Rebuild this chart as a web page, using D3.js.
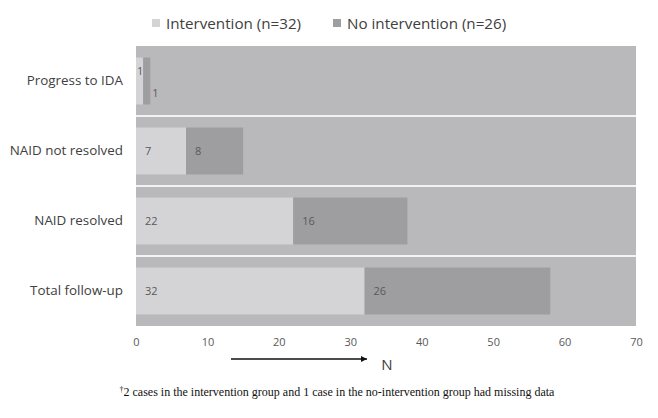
<!DOCTYPE html>
<html><head><meta charset="utf-8">
<script src="https://cdn.jsdelivr.net/npm/d3@7"></script>
<style>body{margin:0;background:#fff}</style>
</head><body>
<svg id="c" width="658" height="418"></svg>
<script>
const categories = ["Progress to IDA", "NAID not resolved", "NAID resolved", "Total follow-up"];
const intervention = [1, 7, 22, 32];
const noIntervention = [1, 8, 16, 26];
const seriesNames = ["Intervention (n=32)", "No intervention (n=26)"];
const xTicks = [0, 10, 20, 30, 40, 50, 60, 70];
const footnote = "2 cases in the intervention group and 1 case in the no-intervention group had missing data";

const svg = d3.select("#c");
const L = 136, R = 636, T = 46, B = 326;
const x = d3.scaleLinear().domain([0, 70]).range([L, R]);
const y = d3.scaleBand().domain(categories).range([T, B]).paddingInner(0.33).paddingOuter(0.165);
const yb = d3.scaleBand().domain(categories).range([T, B]);
const colInt = "#d4d4d6", colNo = "#9e9ea0", bg = "#b9b9bb";
const font = "Open Sans, sans-serif";

svg.append("rect").attr("x", L).attr("y", T).attr("width", R - L).attr("height", B - T).attr("fill", bg);
categories.slice(1).forEach(c => {
  svg.append("line").attr("x1", L).attr("x2", R).attr("y1", yb(c)).attr("y2", yb(c))
    .attr("stroke", "#f2f2f2").attr("stroke-width", 2);
});

const data = categories.map((c, i) => ({c, a: intervention[i], b: noIntervention[i]}));
const g = svg.append("g");
data.forEach(d => {
  g.append("rect").attr("x", x(0)).attr("y", y(d.c)).attr("width", x(d.a) - x(0)).attr("height", y.bandwidth()).attr("fill", colInt);
  g.append("rect").attr("x", x(d.a)).attr("y", y(d.c)).attr("width", x(d.a + d.b) - x(d.a)).attr("height", y.bandwidth()).attr("fill", colNo);
  const small = d.a < 3;
  g.append("text").attr("x", small ? x(0) + 1 : x(0) + 9)
    .attr("y", small ? y(d.c) + 14 : y(d.c) + y.bandwidth() / 2)
    .attr("dy", "0.35em").attr("font-family", font).attr("font-size", 11).attr("fill", "#595959").text(d.a);
  g.append("text").attr("x", small ? x(d.a + d.b) + 2 : x(d.a) + 9)
    .attr("y", small ? y(d.c) + y.bandwidth() - 11 : y(d.c) + y.bandwidth() / 2)
    .attr("dy", "0.35em").attr("font-family", font).attr("font-size", 11).attr("fill", "#595959").text(d.b);
});

const ya = d3.axisLeft(yb).tickSize(0).tickPadding(13);
const yg = svg.append("g").attr("transform", `translate(${L},0)`).call(ya);
yg.select(".domain").remove();
yg.selectAll("text").attr("font-family", font).attr("font-size", 13.4).attr("fill", "#404040");

const xa = d3.axisBottom(x).tickValues(xTicks).tickSize(0).tickPadding(12);
const xg = svg.append("g").attr("transform", `translate(0,${B})`).call(xa);
xg.select(".domain").remove();
xg.selectAll("text").attr("font-family", font).attr("font-size", 11).attr("fill", "#595959");

const leg = [{n: seriesNames[0], c: colInt, x: 152}, {n: seriesNames[1], c: colNo, x: 333}];
leg.forEach(l => {
  svg.append("rect").attr("x", l.x).attr("y", 19).attr("width", 8).attr("height", 8).attr("fill", l.c);
  svg.append("text").attr("x", l.x + 14).attr("y", 23.5).attr("dy", "0.35em")
    .attr("font-family", font).attr("font-size", 15.2).attr("fill", "#404040").text(l.n);
});

svg.append("defs").append("marker").attr("id", "ah").attr("viewBox", "0 0 10 10").attr("refX", 10).attr("refY", 5)
  .attr("markerWidth", 8).attr("markerHeight", 6).attr("markerUnits", "userSpaceOnUse").attr("orient", "auto")
  .append("path").attr("d", "M0,0L10,5L0,10z").attr("fill", "#111");
svg.append("line").attr("x1", 231).attr("x2", 367).attr("y1", 359).attr("y2", 359)
  .attr("stroke", "#111").attr("stroke-width", 1.3).attr("marker-end", "url(#ah)");
svg.append("text").attr("x", 387).attr("y", 370).attr("text-anchor", "middle")
  .attr("font-family", font).attr("font-size", 15).attr("fill", "#404040").text("N");

const ft = svg.append("text").attr("x", 337).attr("y", 396).attr("text-anchor", "middle")
  .attr("font-family", "Liberation Serif").attr("font-size", 12).attr("fill", "#111");
ft.append("tspan").attr("font-size", 8).attr("dy", -4).text("†");
ft.append("tspan").attr("dy", 4).text(footnote);
</script>
</body></html>
